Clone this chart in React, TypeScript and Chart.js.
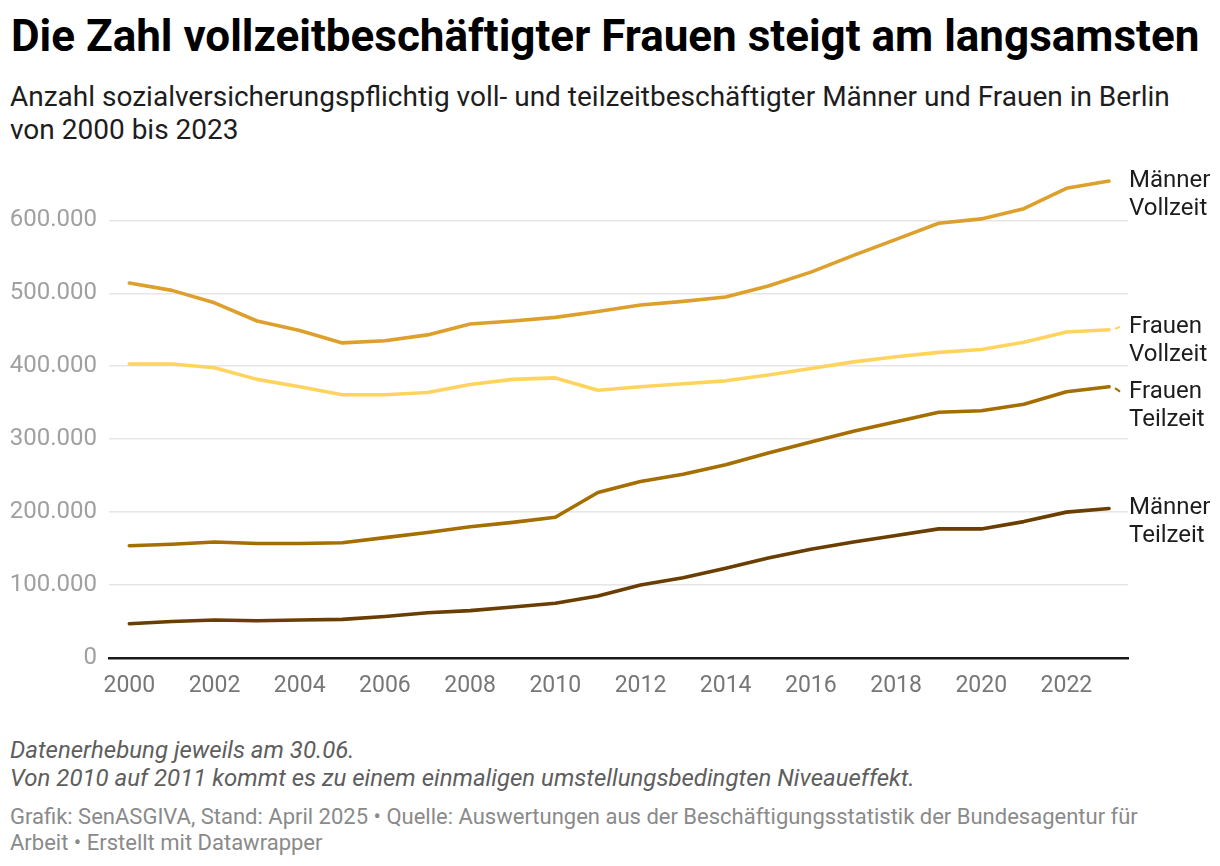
import React, { useEffect, useRef } from "react";
import { Chart, registerables } from "chart.js";

Chart.register(...registerables);

const years = [
  2000, 2001, 2002, 2003, 2004, 2005, 2006, 2007, 2008, 2009, 2010, 2011,
  2012, 2013, 2014, 2015, 2016, 2017, 2018, 2019, 2020, 2021, 2022, 2023,
];
const maennerVollzeit = [
  514000, 504000, 487000, 462000, 449000, 432000, 435000, 443000, 458000,
  462000, 467000, 475000, 484000, 489000, 495000, 510000, 529000, 552000,
  574000, 596000, 602000, 616000, 644000, 654000,
];
const frauenVollzeit = [
  403000, 403000, 398000, 382000, 372000, 361000, 361000, 364000, 375000,
  382000, 384000, 367000, 372000, 376000, 380000, 388000, 397000, 406000,
  413000, 419000, 423000, 433000, 447000, 450000,
];
const frauenTeilzeit = [
  154000, 156000, 159000, 157000, 157000, 158000, 165000, 172000, 180000,
  186000, 193000, 227000, 242000, 252000, 265000, 281000, 296000, 311000,
  324000, 337000, 339000, 348000, 365000, 372000,
];
const maennerTeilzeit = [
  47000, 50000, 52000, 51000, 52000, 53000, 57000, 62000, 65000, 70000,
  75000, 85000, 100000, 110000, 123000, 137000, 149000, 159000, 168000,
  177000, 177000, 187000, 200000, 205000,
];
const seriesNames = [
  ["Männer", "Vollzeit"],
  ["Frauen", "Vollzeit"],
  ["Frauen", "Teilzeit"],
  ["Männer", "Teilzeit"],
];
const yTickValues = [0, 100000, 200000, 300000, 400000, 500000, 600000];
const xTickValues = [2000, 2002, 2004, 2006, 2008, 2010, 2012, 2014, 2016, 2018, 2020, 2022];

const titleText = "Die Zahl vollzeitbeschäftigter Frauen steigt am langsamsten";
const subtitleLines = [
  "Anzahl sozialversicherungspflichtig voll- und teilzeitbeschäftigter Männer und Frauen in Berlin",
  "von 2000 bis 2023",
];
const noteLines = [
  "Datenerhebung jeweils am 30.06.",
  "Von 2010 auf 2011 kommt es zu einem einmaligen umstellungsbedingten Niveaueffekt.",
];
const sourceLines = [
  "Grafik: SenASGIVA, Stand: April 2025 • Quelle: Auswertungen aus der Beschäftigungsstatistik der Bundesagentur für",
  "Arbeit • Erstellt mit Datawrapper",
];

const COLORS = ["#dea02c", "#ffd45e", "#a56e00", "#6a3d00"];
const LABEL_SHIFT = [0, -3, 5, 0];
const FONT = "Roboto, 'Noto Sans', sans-serif";

function formatDE(v: number): string {
  const s = Math.round(v).toString();
  return s.replace(/\B(?=(\d{3})+(?!\d))/g, ".");
}

const endLabelPlugin = {
  id: "endLabels",
  afterDatasetsDraw(chart: any) {
    const ctx = chart.ctx;
    const right = chart.chartArea.right;
    ctx.save();
    chart.data.datasets.forEach((ds: any, i: number) => {
      const meta = chart.getDatasetMeta(i);
      const last = meta.data[meta.data.length - 1];
      if (!last) return;
      const ly = last.y + LABEL_SHIFT[i];
      if (LABEL_SHIFT[i] !== 0) {
        ctx.strokeStyle = ds.borderColor;
        ctx.lineWidth = 2;
        ctx.beginPath();
        ctx.moveTo(last.x + 6, last.y + LABEL_SHIFT[i] * 0.3);
        ctx.lineTo(last.x + 11, ly);
        ctx.stroke();
      }
      ctx.fillStyle = "#1d1d1d";
      ctx.font = `400 24px ${FONT}`;
      ctx.textAlign = "left";
      ctx.textBaseline = "middle";
      const names = seriesNames[i];
      names.forEach((n, k) => {
        ctx.fillText(n, right + 1, ly + k * 28);
      });
    });
    ctx.restore();
  },
};

function TextLine(props: {
  text: string;
  baseline: number;
  size: number;
  weight?: number;
  color: string;
  italic?: boolean;
  left?: number;
}) {
  const { text, baseline, size, weight = 400, color, italic, left = 10 } = props;
  const top = baseline - 0.8415 * size;
  return (
    <div
      style={{
        position: "absolute",
        left,
        top,
        fontFamily: FONT,
        fontSize: size,
        lineHeight: `${size}px`,
        fontWeight: weight,
        fontStyle: italic ? "italic" : "normal",
        color,
        whiteSpace: "nowrap",
      }}
    >
      {text}
    </div>
  );
}

export default function App() {
  const canvasRef = useRef<HTMLCanvasElement | null>(null);

  useEffect(() => {
    document.body.style.margin = "0";
    const canvas = canvasRef.current;
    if (!canvas) return;
    const seriesData = [maennerVollzeit, frauenVollzeit, frauenTeilzeit, maennerTeilzeit];
    const chart = new Chart(canvas, {
      type: "line",
      data: {
        datasets: seriesData.map((arr, i) => ({
          label: seriesNames[i].join(" "),
          data: arr.map((v, k) => ({ x: years[k], y: v })),
          borderColor: COLORS[i],
          backgroundColor: COLORS[i],
          borderWidth: 3.6,
          pointRadius: 0,
          pointHoverRadius: 0,
          tension: 0,
          borderJoinStyle: "round" as const,
          borderCapStyle: "round" as const,
        })),
      },
      options: {
        animation: false,
        responsive: true,
        maintainAspectRatio: false,
        layout: { padding: { top: 7, right: 92, left: 0, bottom: 0 } },
        plugins: {
          legend: { display: false },
          tooltip: { enabled: false },
        },
        scales: {
          x: {
            type: "linear",
            min: 1999.523,
            max: 2023.445,
            afterBuildTicks: (scale: any) => {
              scale.ticks = xTickValues.map((v) => ({ value: v }));
            },
            afterFit: (scale: any) => {
              scale.height = 62;
            },
            grid: { display: false, drawTicks: false },
            border: { display: true, color: "#1a1a1a", width: 2.5 },
            ticks: {
              autoSkip: false,
              maxRotation: 0,
              padding: 14,
              color: "#777777",
              font: { family: FONT, size: 23 },
              callback: (v: any) => String(v),
            },
          },
          y: {
            type: "linear",
            min: 0,
            max: 674000,
            afterBuildTicks: (scale: any) => {
              scale.ticks = yTickValues.map((v) => ({ value: v }));
            },
            afterFit: (scale: any) => {
              scale.width = 109;
            },
            grid: { color: "#e6e6e6", lineWidth: 1.5, drawTicks: false },
            border: { display: false },
            ticks: {
              padding: 12,
              color: "#a0a0a0",
              font: { family: FONT, size: 24 },
              callback: (v: any) => formatDE(Number(v)),
            },
          },
        },
      },
      plugins: [endLabelPlugin],
    });
    return () => chart.destroy();
  }, []);

  return (
    <div style={{ position: "relative", width: 1220, height: 866, background: "#ffffff", overflow: "hidden" }}>
      <TextLine text={titleText} baseline={51} size={44} weight={700} color="#000000" left={11} />
      <TextLine text={subtitleLines[0]} baseline={107} size={28} color="#1d1d1d" />
      <TextLine text={subtitleLines[1]} baseline={140} size={28} color="#1d1d1d" />
      <div style={{ position: "absolute", left: 0, top: 140, width: 1220, height: 580 }}>
        <canvas ref={canvasRef} />
      </div>
      <TextLine text={noteLines[0]} baseline={758.5} size={24} color="#5e5e5e" italic />
      <TextLine text={noteLines[1]} baseline={786.5} size={24} color="#5e5e5e" italic />
      <TextLine text={sourceLines[0]} baseline={825} size={22} color="#8a8a8a" />
      <TextLine text={sourceLines[1]} baseline={851} size={22} color="#8a8a8a" />
    </div>
  );
}
